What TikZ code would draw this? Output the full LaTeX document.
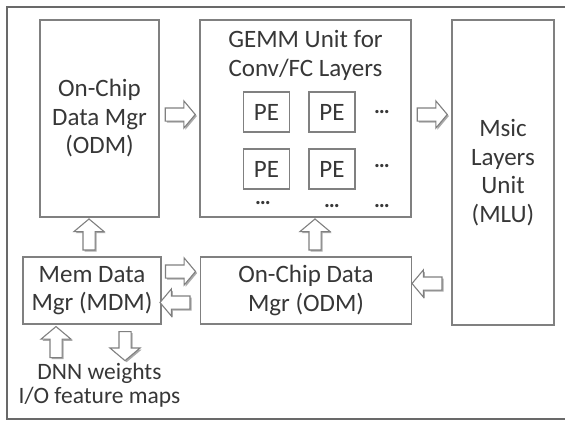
\documentclass[tikz,border=0pt]{standalone}
\usepackage{fontspec}
\setmainfont{Carlito}
\usetikzlibrary{shapes.arrows,shadows,calc}
\definecolor{boxgray}{RGB}{128, 128, 128}
\definecolor{framegray}{RGB}{105, 105, 105}
\definecolor{textgray}{RGB}{55, 55, 55}
\definecolor{shadowgray}{RGB}{170, 170, 170}

\begin{document}
\begin{tikzpicture}[x=1pt, y=-1pt,
            every node/.style={font=\fontsize{25}{28.5}\selectfont, text=textgray},
            unitbox/.style={draw=boxgray, line width=1.2pt, align=center, inner sep=0pt},
            pebox/.style={draw=boxgray, line width=1.2pt, minimum width=46pt, minimum height=40pt, inner sep=0pt},
            blockarrow/.style={single arrow, draw=boxgray, fill=white, line width=1.1pt, inner sep=6pt,
                 single arrow head extend=7pt, single arrow tip angle=100, minimum height=30pt,
                 drop shadow={shadow xshift=1.6pt, shadow yshift=-1.6pt, fill=shadowgray, opacity=1}},
            rightarrow/.style={blockarrow},
            leftarrow/.style={blockarrow, rotate=180},
            uparrow/.style={blockarrow, rotate=90, inner sep=5.5pt, single arrow head extend=9pt, minimum height=31pt},
            downarrow/.style={blockarrow, rotate=-90, inner sep=5.5pt, single arrow head extend=9pt, minimum height=29pt}]
            \clip (0,0) rectangle (565,423);
            \draw[framegray, line width=1.8pt] (7,7) rectangle (600,419);

            \node[unitbox, minimum width=119pt, minimum height=197pt] (odmtop) at ( 99.5,118.5) {On-Chip\\Data Mgr\\(ODM)};
            \node[unitbox, minimum width=211pt, minimum height=197pt] (gemm)   at (305.5,118.5) {};
            \node[align=center]                                       (gemmtitle) at (305.5,55.5) {GEMM Unit for\\Conv/FC Layers};
            \node[unitbox, minimum width=102pt, minimum height=305pt] (mlu)    at (503.0,172.5) {Msic\\Layers\\Unit\\(MLU)};
            \node[unitbox, minimum width=138pt, minimum height=67pt]  (mdm)    at ( 92.0,290.5) {Mem Data\\Mgr (MDM)};
            \node[unitbox, minimum width=211pt, minimum height=67pt]  (odmbot) at (306.0,290.5) {On-Chip Data\\Mgr (ODM)};

            \foreach \r/\yy in {1/112, 2/169}
                \foreach \c/\xx in {1/266.5, 2/332}
                    \node[pebox] (pe\r\c) at (\xx,\yy) {PE};
            \node[font=\fontsize{22}{22}\bfseries] (dotsa) at (382,112) {…};
            \node[font=\fontsize{22}{22}\bfseries] (dotsb) at (382,166) {…};
            \node[font=\fontsize{22}{22}\bfseries] (dotsc) at (382,206) {…};
            \node[font=\fontsize{22}{22}\bfseries] (dotsd) at (263,203) {…};
            \node[font=\fontsize{22}{22}\bfseries] (dotse) at (332,206) {…};

            \node[rightarrow] (togemm)   at ($(odmtop.east)!.5!(gemm.west)+(-2,-4)$) {};
            \node[rightarrow] (tomlu)    at ($(gemm.east)!.5!(mlu.west |- gemm.east)+(-2,-4)$) {};
            \node[leftarrow]  (frommlu)  at ($(odmbot.east)!.5!(mlu.west |- odmbot.east)+(-2,-7)$) {};
            \node[rightarrow] (toodm)    at ($(mdm.east)!.5!(odmbot.west)+(-3,-19)$) {};
            \node[leftarrow]  (tomdm)    at ($(mdm.east)!.5!(odmbot.west)+(-3,12)$) {};
            \node[uparrow]    (upodm)    at ($(mdm.north)!.5!(odmtop.south -| mdm.north)+(-3,0)$) {};
            \node[uparrow]    (upgemm)   at ($(odmbot.north)!.5!(gemm.south -| odmbot.north)+(9,0)$) {};
            \node[uparrow]    (inmdm)    at ($(mdm.south)+(-36,20)$) {};
            \node[downarrow]  (outmdm)   at ($(mdm.south)+(33,19)$) {};

            \node[align=center, font=\fontsize{23.5}{24}\selectfont, anchor=base] (memio) at (99.5,403) {DNN weights\\I/O feature maps};
        \end{tikzpicture}
\end{document}
